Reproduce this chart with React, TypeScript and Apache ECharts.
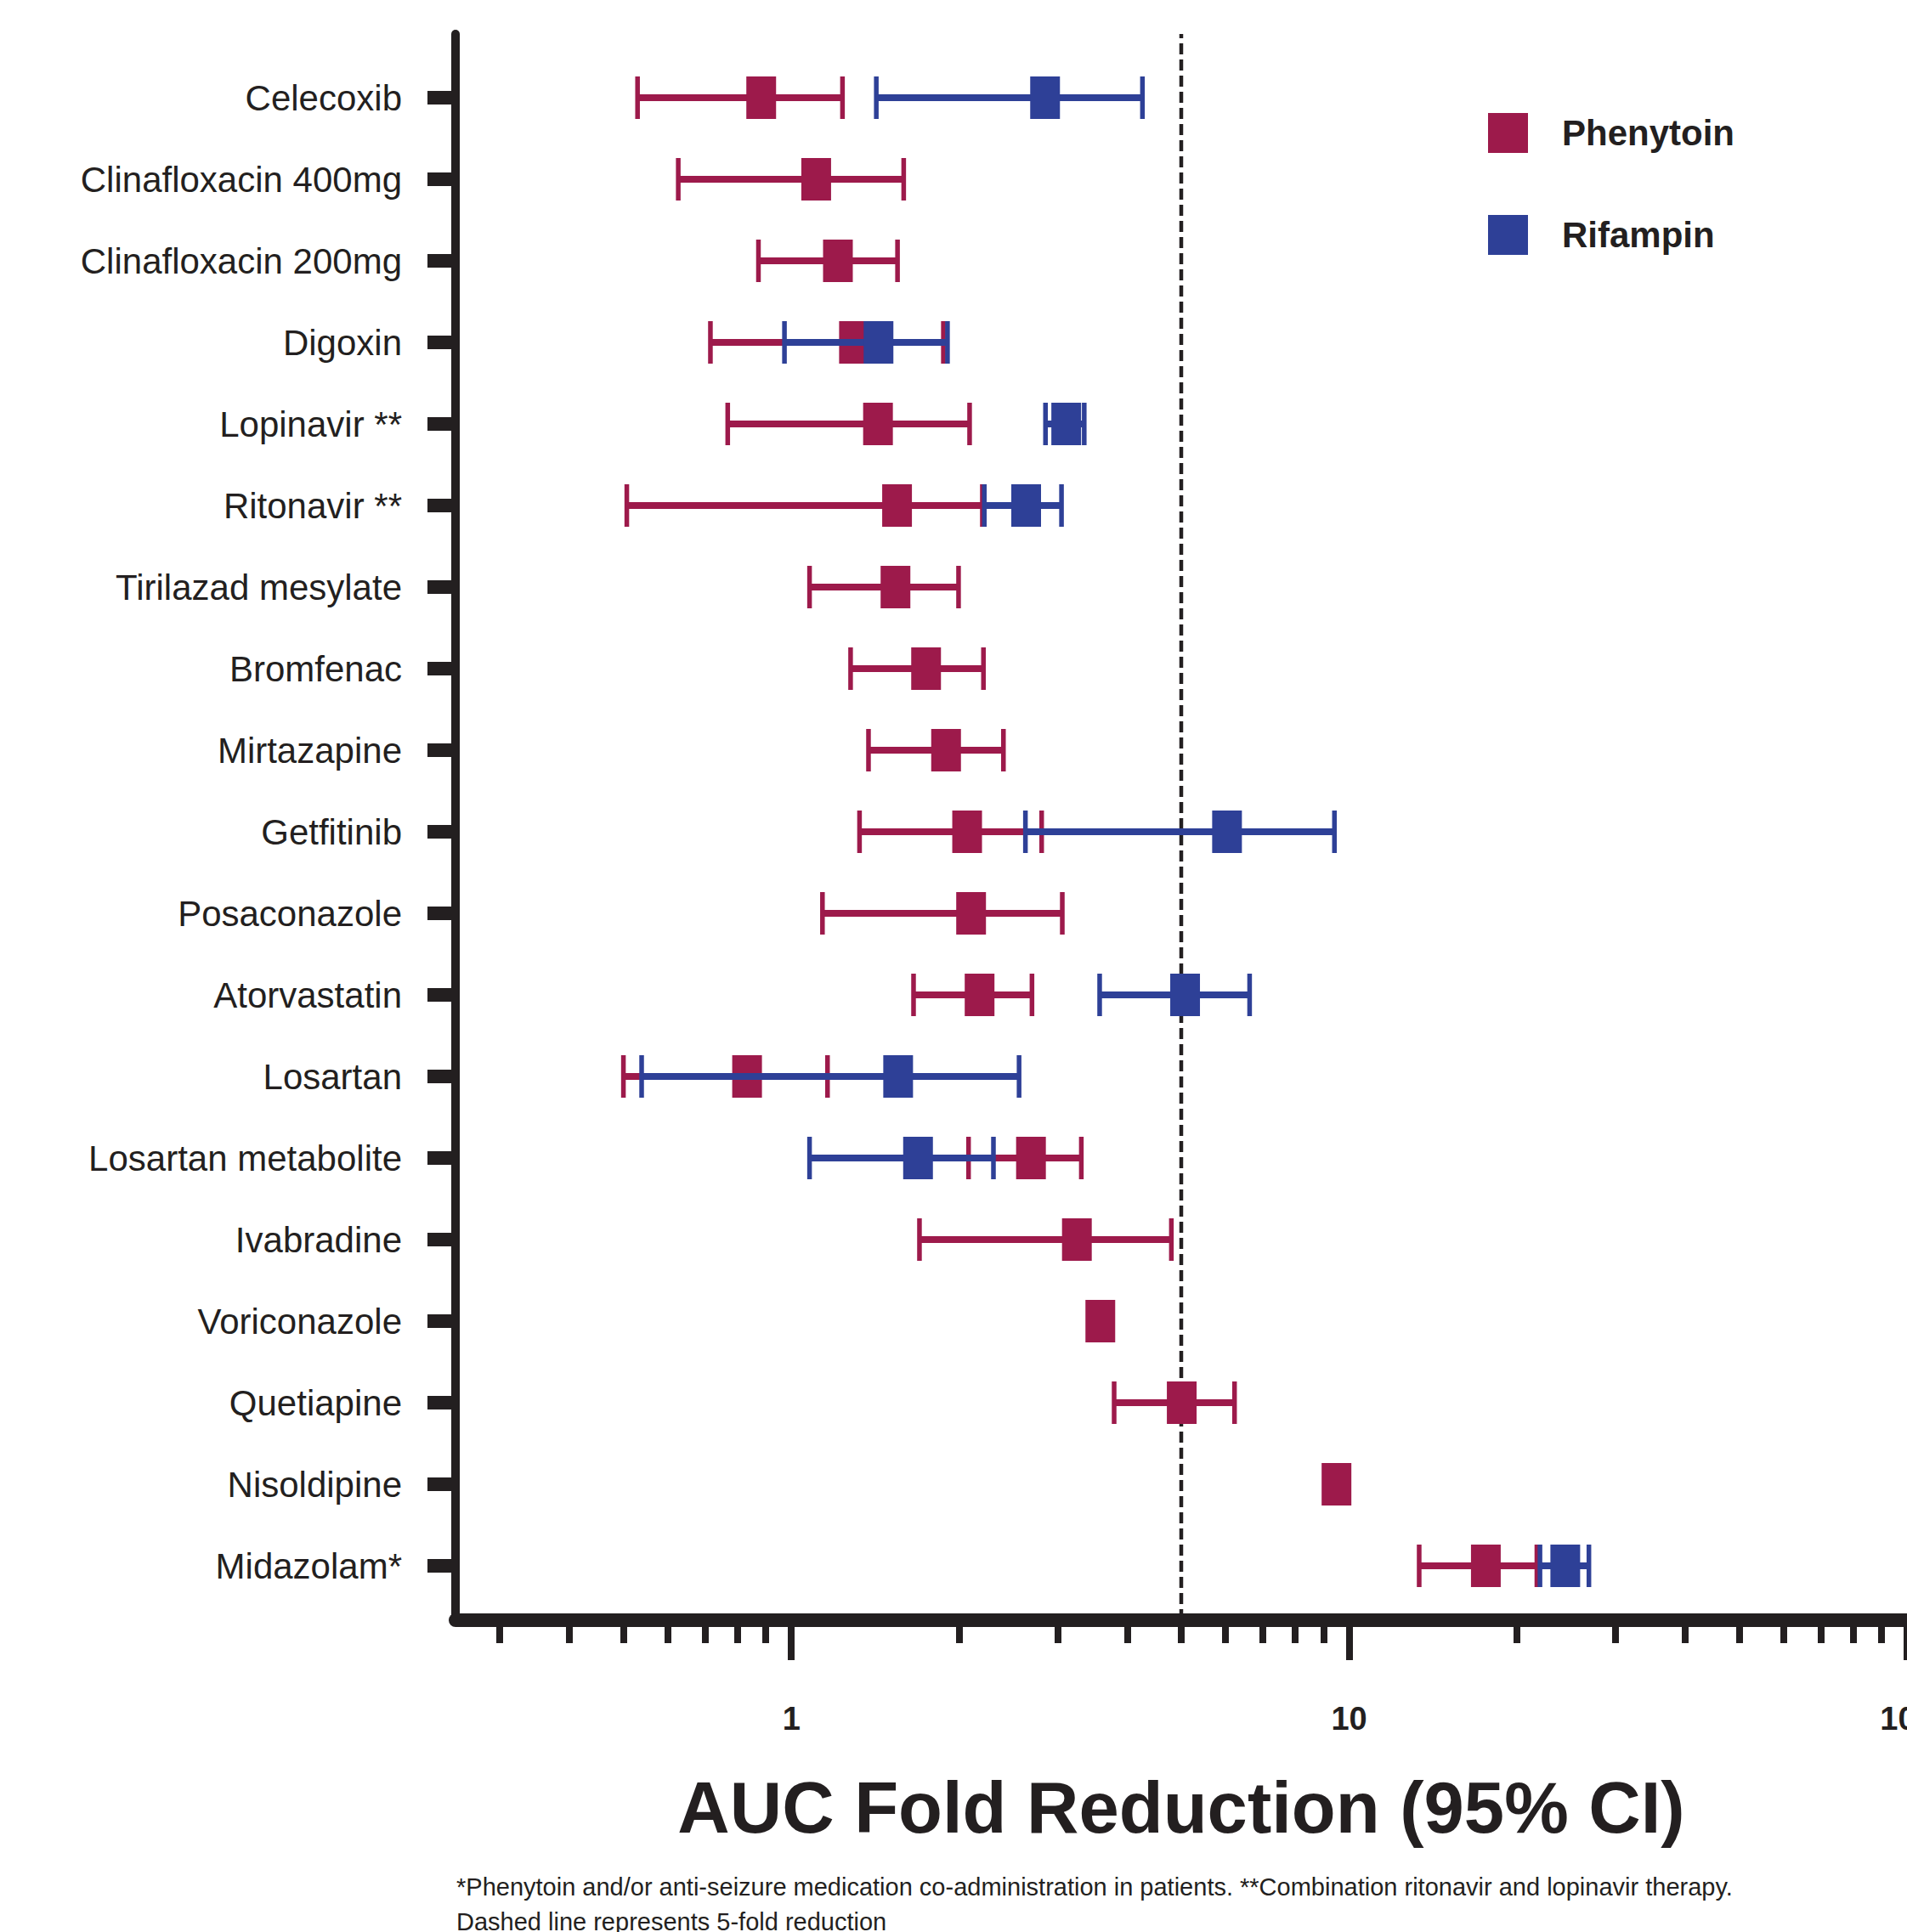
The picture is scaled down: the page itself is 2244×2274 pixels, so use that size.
import React, { useEffect, useRef } from 'react';
import * as echarts from 'echarts';

const categories = [
  'Celecoxib',
  'Clinafloxacin 400mg',
  'Clinafloxacin 200mg',
  'Digoxin',
  'Lopinavir **',
  'Ritonavir **',
  'Tirilazad mesylate',
  'Bromfenac',
  'Mirtazapine',
  'Getfitinib',
  'Posaconazole',
  'Atorvastatin',
  'Losartan',
  'Losartan metabolite',
  'Ivabradine',
  'Voriconazole',
  'Quetiapine',
  'Nisoldipine',
  'Midazolam*',
];

const phenytoinLow = [0.53, 0.627, 0.873, 0.716, 0.769, 0.507, 1.078, 1.277, 1.375, 1.325, 1.137, 1.656, 0.5, 2.078, 1.697, null, 3.79, null, 13.35];
const phenytoinMid = [0.883, 1.108, 1.212, 1.295, 1.43, 1.547, 1.537, 1.744, 1.894, 2.066, 2.1, 2.175, 0.833, 2.689, 3.25, 3.58, 5.01, 9.49, 17.58];
const phenytoinHigh = [1.235, 1.59, 1.55, 1.873, 2.087, 2.2, 1.994, 2.21, 2.4, 2.81, 3.06, 2.7, 1.161, 3.31, 4.8, null, 6.23, null, 21.7];

const rifampinLow = [1.42, null, null, 0.972, 2.855, 2.218, null, null, null, 2.628, null, 3.57, 0.539, 1.078, null, null, null, null, 21.98];
const rifampinMid = [2.85, null, null, 1.433, 3.11, 2.636, null, null, null, 6.04, null, 5.08, 1.554, 1.687, null, null, null, null, 24.4];
const rifampinHigh = [4.26, null, null, 1.905, 3.35, 3.05, null, null, null, 9.41, null, 6.63, 2.56, 2.303, null, null, null, null, 26.9];

const majorTicks = [1, 10, 100];
const minorTicks = [0.3, 0.4, 0.5, 0.6, 0.7, 0.8, 0.9, 2, 3, 4, 5, 6, 7, 8, 9, 20, 30, 40, 50, 60, 70, 80, 90];
const referenceFold = 5;

const xAxisTitle = 'AUC Fold Reduction (95% CI)';
const footnoteLines = [
  '*Phenytoin and/or anti-seizure medication co-administration in patients. **Combination ritonavir and lopinavir therapy.',
  'Dashed line represents 5-fold reduction',
];

const INK = '#231F20';
const RED = '#9D1A4B';
const BLUE = '#2E4097';
const FONT = "'Liberation Sans', Arial, Helvetica, sans-serif";

const num = (v: any) => typeof v === 'number' && Number.isFinite(v) && v > 0;

function makeRender(color: string) {
  return (params: any, api: any) => {
    const idx = api.value(0);
    const low = api.value(1);
    const mid = api.value(2);
    const high = api.value(3);
    const c = api.coord([mid, idx]);
    const y = c[1];
    const children: any[] = [];
    if (num(low) && num(high)) {
      const pl = api.coord([low, idx]);
      const ph = api.coord([high, idx]);
      children.push({ type: 'rect', shape: { x: pl[0], y: y - 4, width: ph[0] - pl[0], height: 8 }, style: { fill: color } });
      children.push({ type: 'rect', shape: { x: pl[0] - 2.75, y: y - 25, width: 5.5, height: 50 }, style: { fill: color } });
      children.push({ type: 'rect', shape: { x: ph[0] - 2.75, y: y - 25, width: 5.5, height: 50 }, style: { fill: color } });
    }
    children.push({ type: 'rect', shape: { x: c[0] - 17.5, y: y - 25, width: 35, height: 50 }, style: { fill: color } });
    return { type: 'group', children };
  };
}

function buildData(low: (number | null)[], mid: (number | null)[], high: (number | null)[]) {
  return categories
    .map((_, i) => [i, low[i], mid[i], high[i]])
    .filter((d) => d[2] != null);
}

export default function App() {
  const ref = useRef<HTMLDivElement>(null);

  useEffect(() => {
    if (!ref.current) return;
    const chart = echarts.init(ref.current, null, { renderer: 'svg' });
    const option: any = {
      animation: false,
      backgroundColor: '#ffffff',
      textStyle: { fontFamily: FONT },
      grid: [
        { left: 536, right: 0, top: 67, bottom: 383, containLabel: false, outerBoundsMode: 'none' },
        { left: 536, right: 0, top: 40, bottom: 367, containLabel: false, outerBoundsMode: 'none' },
      ],
      xAxis: [
        {
          type: 'log',
          logBase: 10,
          gridIndex: 0,
          min: 0.25,
          max: 100,
          position: 'bottom',
          offset: 16,
          axisLine: { show: false, onZero: false },
          axisTick: { show: true, customValues: minorTicks, length: 27, lineStyle: { color: INK, width: 8 } },
          axisLabel: { show: false },
          splitLine: { show: false },
        },
        {
          type: 'log',
          logBase: 10,
          gridIndex: 1,
          min: 0.25,
          max: 100,
          position: 'bottom',
          axisLine: { show: true, onZero: false, lineStyle: { color: INK, width: 16 } },
          axisTick: { show: true, customValues: majorTicks, length: 47, lineStyle: { color: INK, width: 8 } },
          axisLabel: {
            show: true,
            customValues: majorTicks,
            margin: 97,
            fontSize: 38,
            fontWeight: 'bold',
            color: INK,
            fontFamily: FONT,
            formatter: (v: number) => String(Math.round(v)),
          },
          splitLine: { show: false },
          name: xAxisTitle,
          nameLocation: 'middle',
          nameGap: 220,
          nameTextStyle: { fontSize: 85, fontWeight: 'bold', color: INK, fontFamily: FONT, verticalAlign: 'middle' },
        },
      ],
      yAxis: [
        {
          type: 'category',
          gridIndex: 0,
          inverse: true,
          data: categories,
          axisLine: { show: false },
          axisTick: { show: true, alignWithLabel: true, interval: 0, length: 33, lineStyle: { color: INK, width: 16 } },
          axisLabel: { show: true, interval: 0, margin: 63, fontSize: 42, color: INK, fontFamily: FONT },
          splitLine: { show: false },
        },
        {
          type: 'value',
          gridIndex: 1,
          min: 0,
          max: 1,
          axisLine: { show: true, onZero: false, lineStyle: { color: INK, width: 10 } },
          axisTick: { show: false },
          axisLabel: { show: false },
          splitLine: { show: false },
        },
      ],
      legend: {
        data: [
          { name: 'Phenytoin', icon: 'rect' },
          { name: 'Rifampin', icon: 'rect' },
        ],
        orient: 'vertical',
        left: 1751,
        top: 133,
        padding: 0,
        itemWidth: 47,
        itemHeight: 47,
        itemGap: 73,
        selectedMode: false,
        textStyle: { fontSize: 42, fontWeight: 'bold', color: INK, fontFamily: FONT, padding: [0, 0, 0, 35], lineHeight: 47 },
      },
      title: {
        text: footnoteLines.join('\n'),
        left: 537,
        top: 2200,
        padding: 0,
        textStyle: { fontSize: 29, fontWeight: 'normal', color: INK, fontFamily: FONT, lineHeight: 41 },
      },
      series: [
        {
          type: 'line',
          name: 'reference',
          xAxisIndex: 1,
          yAxisIndex: 1,
          data: [
            [referenceFold, 0],
            [referenceFold, 1],
          ],
          symbol: 'none',
          silent: true,
          z: 1,
          lineStyle: { color: INK, width: 4.5, type: [13, 6] },
        },
        {
          type: 'custom',
          name: 'Phenytoin',
          xAxisIndex: 0,
          yAxisIndex: 0,
          z: 3,
          itemStyle: { color: RED },
          encode: { x: [1, 2, 3], y: 0 },
          renderItem: makeRender(RED),
          data: buildData(phenytoinLow, phenytoinMid, phenytoinHigh),
        },
        {
          type: 'custom',
          name: 'Rifampin',
          xAxisIndex: 0,
          yAxisIndex: 0,
          z: 4,
          itemStyle: { color: BLUE },
          encode: { x: [1, 2, 3], y: 0 },
          renderItem: makeRender(BLUE),
          data: buildData(rifampinLow, rifampinMid, rifampinHigh),
        },
      ],
    };
    chart.setOption(option);
    return () => chart.dispose();
  }, []);

  return (
    <div
      ref={ref}
      style={{ position: 'absolute', left: 0, top: 0, width: 2244, height: 2274, background: '#fff' }}
    />
  );
}
